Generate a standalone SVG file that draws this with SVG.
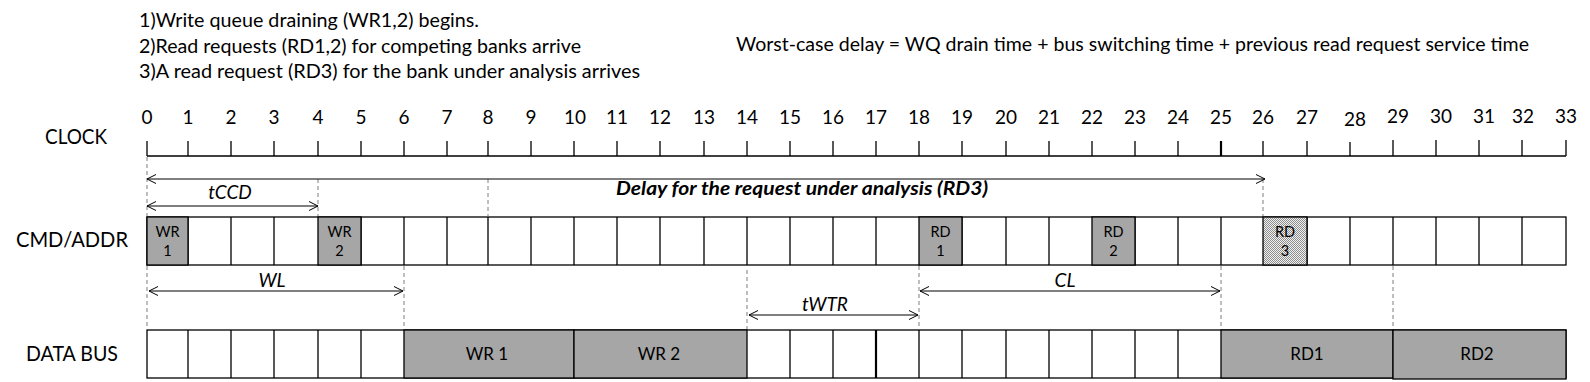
<svg xmlns="http://www.w3.org/2000/svg" width="1590" height="382" viewBox="0 0 1590 382">
<style>
  text { font-family: Lato, "Liberation Sans", sans-serif; fill: #000; }
  .note { font-size: 19.5px; }
  .row { font-size: 21.5px; }
  .tick { font-size: 19px; text-anchor: middle; }
  .cmdl { font-size: 14.5px; text-anchor: middle; }
  .busl { font-size: 17px; text-anchor: middle; }
  .lab { font-size: 19px; font-style: italic; text-anchor: middle; }
  .delay { font-size: 19px; font-style: italic; font-weight: bold; }
  .cell { fill: #fff; stroke: #000; stroke-width: 1.3; }
  .busy { fill: #a6a6a6; stroke: #000; stroke-width: 1.3; }
  .dots { fill: url(#stipple); stroke: #000; stroke-width: 1.3; }
  .axis { stroke: #000; stroke-width: 1.3; fill: none; }
  .dash { stroke: #7f7f7f; stroke-width: 1; stroke-dasharray: 4 3; fill: none; }
  .arr { stroke: #000; stroke-width: 1; fill: none; marker-start: url(#head); marker-end: url(#head); }
</style>
<defs>
  <pattern id="stipple" width="2" height="2" patternUnits="userSpaceOnUse">
    <rect width="2" height="2" fill="#f2f2f2"/>
    <rect x="0" y="0" width="1" height="1" fill="#8c8c8c"/>
    <rect x="1" y="1" width="1" height="1" fill="#8c8c8c"/>
  </pattern>
  <marker id="head" markerWidth="12" markerHeight="12" refX="10" refY="6" orient="auto-start-reverse" markerUnits="userSpaceOnUse">
    <path d="M1,1.5 L10,6 L1,10.5" fill="none" stroke="#000" stroke-width="1"/>
  </marker>
</defs>

<g id="notes">
  <text class="note" x="139" y="27" textLength="340" lengthAdjust="spacingAndGlyphs">1)Write queue draining (WR1,2) begins.</text>
  <text class="note" x="139" y="53" textLength="442" lengthAdjust="spacingAndGlyphs">2)Read requests (RD1,2) for competing banks arrive</text>
  <text class="note" x="139" y="78" textLength="501" lengthAdjust="spacingAndGlyphs">3)A read request (RD3) for the bank under analysis arrives</text>
  <text class="note" x="736" y="51" textLength="793" lengthAdjust="spacingAndGlyphs">Worst-case delay = WQ drain time + bus switching time + previous read request service time</text>
</g>

<g id="row-labels">
  <text class="row" x="45" y="144" textLength="62" lengthAdjust="spacingAndGlyphs">CLOCK</text>
  <text class="row" x="16" y="247" textLength="112" lengthAdjust="spacingAndGlyphs">CMD/ADDR</text>
  <text class="row" x="26" y="361" textLength="92" lengthAdjust="spacingAndGlyphs">DATA BUS</text>
</g>

<g id="clock">
  <path class="axis" d="M147,156 H1566"/>
  <path class="axis" d="M147,141 V156 M188,141 V156 M231,141 V156 M274,141 V156 M318,141 V156 M361,141 V156 M404,141 V156 M447,141 V156 M488,141 V156 M531,141 V156 M574,141 V156 M617,141 V156 M660,141 V156 M704,141 V156 M747,141 V156 M790,141 V156 M833,141 V156 M876,141 V156 M919,141 V156 M962,141 V156 M1006,141 V156 M1049,141 V156 M1092,141 V156 M1135,141 V156 M1178,141 V156 M1263,141 V156 M1307,141 V156 M1350,142 V156 M1393,140 V156 M1436,140 V156 M1479,140 V156 M1522,140 V156 M1566,140 V156"/>
  <path d="M1221,141 V156" stroke="#000" stroke-width="2.2"/>
  <text class="tick" x="147" y="124">0</text>
  <text class="tick" x="188" y="124">1</text>
  <text class="tick" x="231" y="124">2</text>
  <text class="tick" x="274" y="124">3</text>
  <text class="tick" x="318" y="124">4</text>
  <text class="tick" x="361" y="124">5</text>
  <text class="tick" x="404" y="124">6</text>
  <text class="tick" x="447" y="124">7</text>
  <text class="tick" x="488" y="124">8</text>
  <text class="tick" x="531" y="124">9</text>
  <text class="tick" x="575" y="124">10</text>
  <text class="tick" x="617" y="124">11</text>
  <text class="tick" x="660" y="124">12</text>
  <text class="tick" x="704" y="124">13</text>
  <text class="tick" x="747" y="124">14</text>
  <text class="tick" x="790" y="124">15</text>
  <text class="tick" x="833" y="124">16</text>
  <text class="tick" x="876" y="124">17</text>
  <text class="tick" x="919" y="124">18</text>
  <text class="tick" x="962" y="124">19</text>
  <text class="tick" x="1006" y="124">20</text>
  <text class="tick" x="1049" y="124">21</text>
  <text class="tick" x="1092" y="124">22</text>
  <text class="tick" x="1135" y="124">23</text>
  <text class="tick" x="1178" y="124">24</text>
  <text class="tick" x="1221" y="124">25</text>
  <text class="tick" x="1263" y="124">26</text>
  <text class="tick" x="1307" y="124">27</text>
  <text class="tick" x="1355" y="126">28</text>
  <text class="tick" x="1398" y="123">29</text>
  <text class="tick" x="1441" y="123">30</text>
  <text class="tick" x="1484" y="123">31</text>
  <text class="tick" x="1523" y="123">32</text>
  <text class="tick" x="1566" y="123">33</text>
</g>

<g id="cmd-row">
  <rect class="cell" x="147" y="217" width="1419" height="48"/>
  <path class="axis" d="M188,217 V265 M231,217 V265 M274,217 V265 M361,217 V265 M404,217 V265 M447,217 V265 M488,217 V265 M531,217 V265 M574,217 V265 M617,217 V265 M660,217 V265 M704,217 V265 M747,217 V265 M790,217 V265 M833,217 V265 M876,217 V265 M962,217 V265 M1006,217 V265 M1049,217 V265 M1135,217 V265 M1178,217 V265 M1221,217 V265 M1307,217 V265 M1350,217 V265 M1393,217 V265 M1436,217 V265 M1479,217 V265 M1522,217 V265"/>
</g>
<g id="cmd-wr1">
  <rect class="busy" x="147" y="217" width="41" height="48"/>
  <text class="cmdl" x="167.5" y="237">WR</text>
  <text class="cmdl" x="167.5" y="256">1</text>
</g>
<g id="cmd-wr2">
  <rect class="busy" x="318" y="217" width="43" height="48"/>
  <text class="cmdl" x="339.5" y="237">WR</text>
  <text class="cmdl" x="339.5" y="256">2</text>
</g>
<g id="cmd-rd1">
  <rect class="busy" x="919" y="217" width="43" height="48"/>
  <text class="cmdl" x="940.5" y="237">RD</text>
  <text class="cmdl" x="940.5" y="256">1</text>
</g>
<g id="cmd-rd2">
  <rect class="busy" x="1092" y="217" width="43" height="48"/>
  <text class="cmdl" x="1113.5" y="237">RD</text>
  <text class="cmdl" x="1113.5" y="256">2</text>
</g>
<g id="cmd-rd3">
  <rect class="dots" x="1263" y="217" width="44" height="48"/>
  <text class="cmdl" x="1285" y="237">RD</text>
  <text class="cmdl" x="1285" y="256">3</text>
</g>

<g id="bus-row">
  <rect class="cell" x="147" y="330" width="1419" height="48"/>
  <path class="axis" d="M188,330 V378 M231,330 V378 M274,330 V378 M318,330 V378 M361,330 V378 M790,330 V378 M833,330 V378 M919,330 V378 M962,330 V378 M1006,330 V378 M1049,330 V378 M1092,330 V378 M1135,330 V378 M1178,330 V378"/>
  <path d="M876,330 V378" stroke="#000" stroke-width="2.2"/>
</g>
<g id="bus-wr1">
  <rect class="busy" x="404" y="330" width="170" height="48"/>
  <text class="busl" x="487" y="360">WR 1</text>
</g>
<g id="bus-wr2">
  <rect class="busy" x="574" y="330" width="173" height="48"/>
  <text class="busl" x="659" y="360">WR 2</text>
</g>
<g id="bus-rd1">
  <rect class="busy" x="1221" y="330" width="172" height="48"/>
  <text class="busl" x="1307" y="360">RD1</text>
</g>
<g id="bus-rd2">
  <rect class="busy" x="1393" y="330" width="173" height="49"/>
  <text class="busl" x="1477" y="360">RD2</text>
</g>

<g id="connectors">
  <path class="dash" d="M147,157 V216 M147,266 V329"/>
  <path class="dash" d="M318,179 V216 M488,179 V216 M1263,179 V216"/>
  <path class="dash" d="M404,266 V329 M747,270 V329 M919,266 V329 M1221,266 V329 M1393,266 V329"/>
  <path class="arr" d="M147,179 H1265"/>
  <path class="arr" d="M147,206 H318"/>
  <path class="arr" d="M149,291 H403"/>
  <path class="arr" d="M920,291 H1220"/>
  <path class="arr" d="M749,315 H918"/>
  <text class="delay" x="616" y="195" textLength="372" lengthAdjust="spacingAndGlyphs">Delay for the request under analysis (RD3)</text>
  <text class="lab" x="230" y="199">tCCD</text>
  <text class="lab" x="272" y="287">WL</text>
  <text class="lab" x="1065" y="287">CL</text>
  <text class="lab" x="825" y="311">tWTR</text>
</g>
</svg>
